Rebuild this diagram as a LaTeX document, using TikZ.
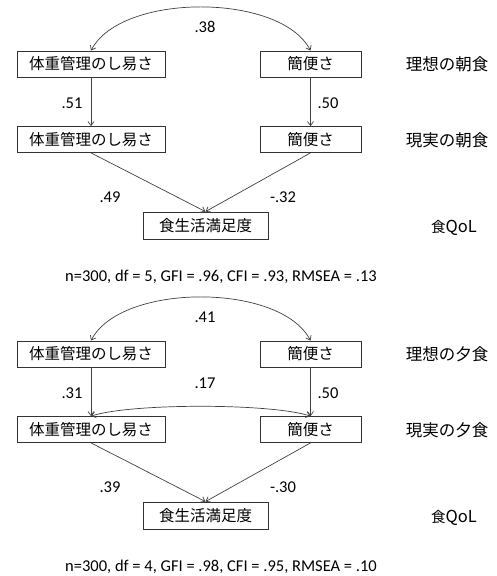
\documentclass[tikz,border=0pt]{standalone}
\usepackage{fontspec}
\setmainfont{Carlito}
\newfontfamily\jp{Noto Sans CJK JP}
\usetikzlibrary{arrows.meta}
\begin{document}
\begin{tikzpicture}[x=1pt,y=-1pt,
  var/.style={draw=black!80,line width=0.8pt,minimum height=26pt,inner sep=0pt,font=\jp\fontsize{15.5}{18}\selectfont},
  row/.style={font=\jp\fontsize{16.5}{19}\selectfont},
  coef/.style={font=\fontsize{16.5}{19}\selectfont},
  fit/.style={font=\fontsize{16.5}{19}\selectfont},
  path/.style={draw=black!75,line width=0.7pt,-{Straight Barb[length=4pt,width=6pt]}},
  cov/.style={draw=black!75,line width=0.7pt,{Straight Barb[length=4pt,width=6pt]}-{Straight Barb[length=4pt,width=6pt]}}]
\useasboundingbox (0,0) rectangle (497,576);
% ---- top (breakfast)
\node[var,minimum width=148pt] (a1) at (91,64) {体重管理のし易さ};
\node[var,minimum width=101pt] (b1) at (310.5,64) {簡便さ};
\node[var,minimum width=148pt] (a2) at (91,139.5) {体重管理のし易さ};
\node[var,minimum width=101pt] (b2) at (310.5,139.5) {簡便さ};
\node[var,minimum width=125pt,minimum height=27pt] (c) at (205.5,225.5) {食生活満足度};
\node[row] (r1) at (447,64) {理想の朝食};
\node[row] (r2) at (447,140) {現実の朝食};
\node[row] (r3) at (454,228) {{\jp\fontsize{14.5}{17}\selectfont 食}QoL};
\draw[cov] (a1.north) .. controls +(30,-58) and +(-30,-58) .. (b1.north);
\draw[path] (a1) -- (a2);
\draw[path] (b1) -- (b2);
\draw[path] (a2.south) -- (c.north);
\draw[path] (b2.south) -- (c.north);
\node[coef] (l1) at (205,27) {.38};
\node[coef] (l2) at (72,103) {.51};
\node[coef] (l3) at (328,103) {.50};
\node[coef] (l4) at (110,197) {.49};
\node[coef] (l5) at (283,197) {-.32};
\node[fit] (f1) at (221,277) {n=300, df = 5, GFI = .96, CFI = .93, RMSEA = .13};
% ---- bottom (dinner)
\node[var,minimum width=148pt] (d1) at (91,354) {体重管理のし易さ};
\node[var,minimum width=101pt] (e1) at (310.5,354) {簡便さ};
\node[var,minimum width=148pt] (d2) at (91,429.5) {体重管理のし易さ};
\node[var,minimum width=101pt] (e2) at (310.5,429.5) {簡便さ};
\node[var,minimum width=125pt,minimum height=27pt] (g) at (205.5,515.5) {食生活満足度};
\node[row] (s1) at (447,354) {理想の夕食};
\node[row] (s2) at (447,430) {現実の夕食};
\node[row] (s3) at (454,518) {{\jp\fontsize{14.5}{17}\selectfont 食}QoL};
\draw[cov] (d1.north) .. controls +(30,-58) and +(-30,-58) .. (e1.north);
\draw[cov] (d2.north) .. controls +(40,-13) and +(-40,-13) .. (e2.north);
\draw[path] (d1) -- (d2);
\draw[path] (e1) -- (e2);
\draw[path] (d2.south) -- (g.north);
\draw[path] (e2.south) -- (g.north);
\node[coef] (m1) at (205,317) {.41};
\node[coef] (m6) at (205,383) {.17};
\node[coef] (m2) at (72,393) {.31};
\node[coef] (m3) at (328,393) {.50};
\node[coef] (m4) at (110,487) {.39};
\node[coef] (m5) at (283,487) {-.30};
\node[fit] (f2) at (221,567) {n=300, df = 4, GFI = .98, CFI = .95, RMSEA = .10};
\end{tikzpicture}
\end{document}
